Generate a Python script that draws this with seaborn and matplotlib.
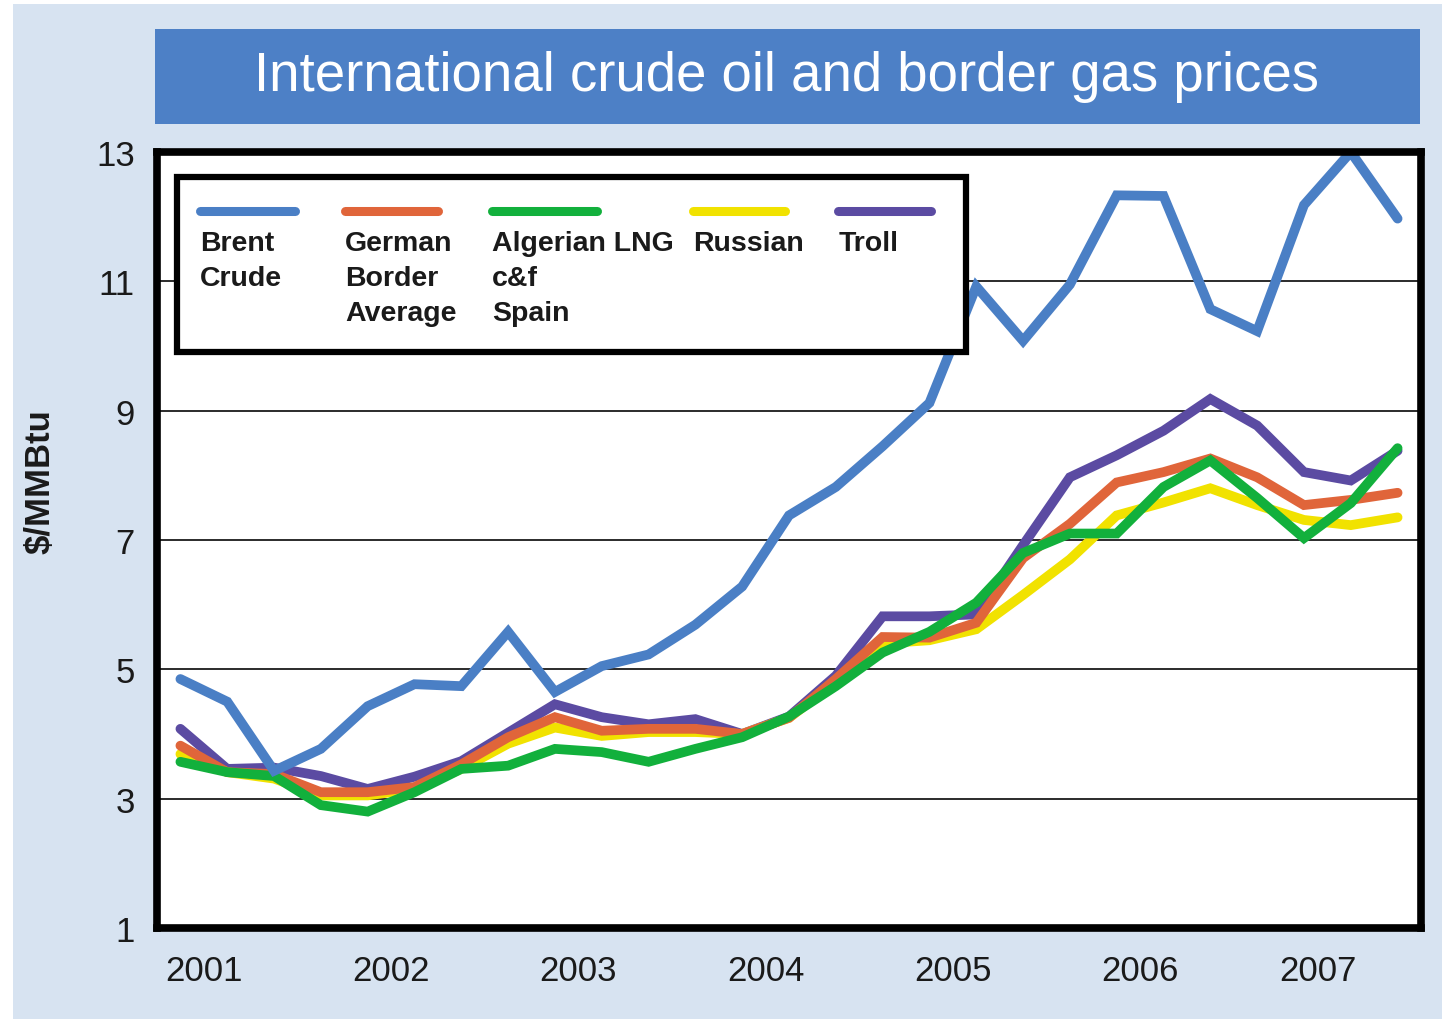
import numpy as np
import pandas as pd
import seaborn as sns
import matplotlib.pyplot as plt
from matplotlib.patches import Rectangle
from matplotlib.transforms import blended_transform_factory

# quarterly prices, $/MMBtu, Q1 2001 .. Q3 2007
quarters = np.arange(27) + 0.5

brent = [4.85, 4.5, 3.43, 3.77, 4.43, 4.77, 4.74, 5.58, 4.65, 5.05, 5.23, 5.69, 6.28, 7.38,
         7.82, 8.45, 9.12, 10.92, 10.08, 10.95, 12.33, 12.32, 10.57, 10.23, 12.18, 13.0, 11.97]
german = [3.82, 3.41, 3.38, 3.1, 3.1, 3.18, 3.53, 3.95, 4.26, 4.05, 4.08, 4.08, 4.0, 4.25,
          4.85, 5.5, 5.49, 5.72, 6.72, 7.25, 7.89, 8.05, 8.26, 7.97, 7.54, 7.62, 7.73]
algerian = [3.57, 3.41, 3.35, 2.9, 2.8, 3.1, 3.46, 3.51, 3.77, 3.72, 3.57, 3.77, 3.95, 4.27,
            4.74, 5.26, 5.58, 6.03, 6.8, 7.1, 7.1, 7.82, 8.23, 7.65, 7.03, 7.57, 8.42]
russian = [3.69, 3.41, 3.31, 3.05, 3.05, 3.15, 3.46, 3.85, 4.1, 3.97, 4.03, 4.03, 4.0, 4.25,
           4.8, 5.4, 5.45, 5.62, 6.15, 6.7, 7.38, 7.58, 7.8, 7.54, 7.31, 7.23, 7.35]
troll = [4.08, 3.46, 3.48, 3.35, 3.15, 3.34, 3.58, 4.02, 4.46, 4.26, 4.15, 4.23, 4.0, 4.27,
         4.9, 5.82, 5.82, 5.85, 6.92, 7.97, 8.31, 8.69, 9.18, 8.77, 8.05, 7.92, 8.38]

year_labels = ['2001', '2002', '2003', '2004', '2005', '2006', '2007']
year_pos = [1, 5, 9, 13, 17, 21, 24.8]

# legend order (left to right) and drawing order (bottom to top)
legend_names = ['Brent\nCrude', 'German\nBorder\nAverage', 'Algerian LNG\nc&f\nSpain', 'Russian', 'Troll']
draw_order = ['Troll', 'Russian', 'German\nBorder\nAverage', 'Algerian LNG\nc&f\nSpain', 'Brent\nCrude']
colors = {
    'Brent\nCrude': '#4a7fc5',
    'German\nBorder\nAverage': '#e0653a',
    'Algerian LNG\nc&f\nSpain': '#12b03c',
    'Russian': '#f1e200',
    'Troll': '#5b4ba2',
}

df = pd.DataFrame({
    'quarter': np.tile(quarters, 5),
    'price': brent + german + algerian + russian + troll,
    'series': np.repeat(legend_names, len(quarters)),
})

sns.set_style('white')
plt.rcParams['font.family'] = ['Liberation Sans Narrow', 'Liberation Sans', 'DejaVu Sans']

W, H = 1448, 1020
fig = plt.figure(figsize=(W / 100, H / 100), dpi=100)
fig.patch.set_facecolor('white')

# light blue panel + title banner
fig.add_artist(Rectangle((13 / W, 0), 1429 / W, 1015 / H, transform=fig.transFigure,
                         facecolor='#d7e3f1', edgecolor='none', zorder=-2))
fig.add_artist(Rectangle((155 / W, 1 - 125 / H), 1265 / W, 95 / H, transform=fig.transFigure,
                         facecolor='#4d80c6', edgecolor='none', zorder=-1))
title = fig.text(787 / W, 1 - 77 / H, 'International crude oil and border gas prices',
                 color='white', fontsize=40, ha='center', va='center', fontstretch='condensed')
# shrink / grow the title so it spans the same width as in the original banner
w = title.get_window_extent(fig.canvas.get_renderer()).width
title.set_fontsize(40 * 1065 / w)

ax = fig.add_axes([157 / W, 91 / H, 1264 / W, 776 / H])
ax.set_facecolor('white')

sns.lineplot(data=df, x='quarter', y='price', hue='series', hue_order=draw_order,
             palette=colors, linewidth=7, legend=False, sort=False, ax=ax,
             solid_joinstyle='miter')

ax.set_xlim(0, 27)
ax.set_ylim(1, 13)
ax.set_xlabel('')
ax.set_ylabel('')

# y axis: labels only, gridlines
ax.set_yticks([1, 3, 5, 7, 9, 11, 13])
ax.yaxis.grid(True, color='#1a1a1a', linewidth=1.3)
ax.tick_params(axis='y', length=0, pad=16, labelsize=25, labelcolor='#1a1a1a')
ax.set_axisbelow(True)

# x axis: long ticks at year breaks, short at quarters, both inside
ax.set_xticks([3, 7, 11, 15, 19, 23])
ax.set_xticks([q for q in range(1, 27) if q not in (3, 7, 11, 15, 19, 23)], minor=True)
ax.tick_params(axis='x', which='major', direction='in', length=21, width=1.5,
               color='#1a1a1a', labelbottom=False)
ax.tick_params(axis='x', which='minor', direction='in', length=10, width=1.5,
               color='#1a1a1a', labelbottom=False)
xt = blended_transform_factory(ax.transData, ax.transAxes)
for pos, lab in zip(year_pos, year_labels):
    ax.text(pos, -0.033, lab, transform=xt, ha='center', va='top', fontsize=25,
            color='#1a1a1a')

for s in ax.spines.values():
    s.set_visible(True)
    s.set_color('black')
    s.set_linewidth(5.5)

fig.text(40 / W, 1 - 482 / H, '$/MMBtu', rotation=90, fontsize=25, weight='bold',
         ha='center', va='center', color='#1a1a1a')

# legend box: line sample above each (multi-line) label
ax.add_patch(Rectangle((0.0158, 0.742), 0.624, 0.226, transform=ax.transAxes,
                       facecolor='white', edgecolor='black', linewidth=4.5, zorder=5))
leg_x = [(0.034, 0.109), (0.149, 0.222), (0.265, 0.348), (0.424, 0.497), (0.539, 0.612)]
for (x0, x1), name in zip(leg_x, legend_names):
    ax.plot([x0, x1], [0.924, 0.924], transform=ax.transAxes, color=colors[name],
            linewidth=6.5, solid_capstyle='round', zorder=6)
    ax.text(x0, 0.899, name, transform=ax.transAxes, ha='left', va='top',
            fontsize=20.5, weight='bold', linespacing=1.45, zorder=6, color='#1a1a1a')

fig.savefig('out.png', dpi=100, facecolor=fig.get_facecolor())
